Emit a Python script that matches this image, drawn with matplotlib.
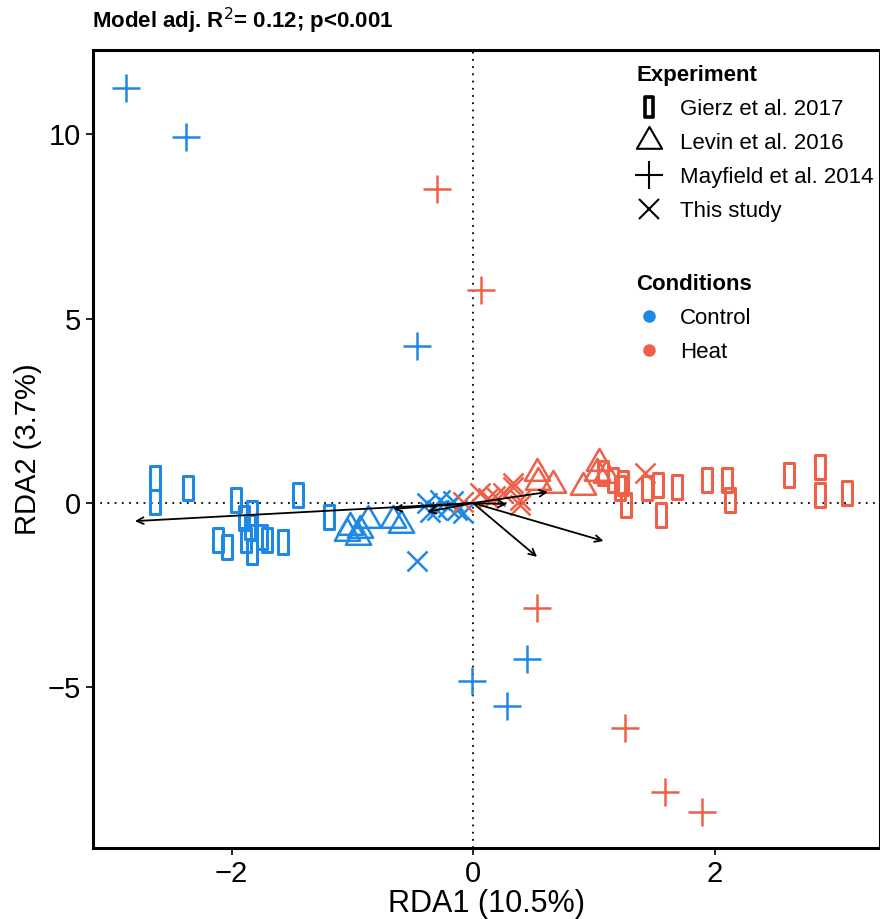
import numpy as np
import matplotlib.pyplot as plt
from matplotlib.path import Path
from matplotlib.lines import Line2D

blue = '#1E88E5'
red = '#F05F47'

# Gierz et al. 2017 (rectangles)
gierz_ctrl_x = [-2.63, -2.63, -2.36, -1.96, -1.90, -1.83, -1.85, -1.88, -1.83, -2.11,
                -2.04, -1.75, -1.71, -1.57, -1.45, -1.19]
gierz_ctrl_y = [0.68, 0.03, 0.41, 0.08, -0.41, -0.27, -0.65, -1.00, -1.33, -1.00,
                -1.19, -0.92, -1.00, -1.06, 0.22, -0.38]
gierz_heat_x = [1.08, 1.16, 1.24, 1.22, 1.27, 1.44, 1.53, 1.56, 1.69, 1.94, 2.10, 2.13,
                2.62, 2.87, 2.87, 3.10]
gierz_heat_y = [0.81, 0.62, 0.54, 0.41, -0.05, 0.41, 0.49, -0.33, 0.43, 0.62, 0.62, 0.08,
                0.76, 0.98, 0.22, 0.27]

# Levin et al. 2016 (triangles)
levin_ctrl_x = [-1.04, -1.02, -0.95, -0.94, -0.87, -0.66, -0.60]
levin_ctrl_y = [-0.81, -0.65, -0.92, -0.73, -0.46, -0.46, -0.60]
levin_heat_x = [0.53, 0.54, 0.66, 0.91, 1.04, 1.03, 1.10]
levin_heat_y = [0.81, 0.57, 0.49, 0.43, 1.08, 0.81, 0.75]

# Mayfield et al. 2014 (plus)
may_ctrl_x = [-2.87, -2.38, -0.46, -0.01, 0.45, 0.28]
may_ctrl_y = [11.25, 9.92, 4.25, -4.82, -4.23, -5.50]
may_heat_x = [-0.30, 0.07, 0.53, 1.26, 1.59, 1.90]
may_heat_y = [8.51, 5.77, -2.85, -6.10, -7.83, -8.37]

# This study (x)
this_ctrl_x = [-0.46, -0.38, -0.27, -0.30, -0.21, -0.13, -0.36, -0.08, -0.17]
this_ctrl_y = [-1.57, 0.00, 0.08, -0.19, -0.10, -0.19, -0.24, -0.27, 0.05]
this_heat_x = [-0.08, 0.06, 0.12, 0.25, 0.33, 0.39, 0.33, 0.39, 1.42, 0.18]
this_heat_y = [0.03, 0.27, 0.14, 0.27, 0.54, -0.05, 0.43, 0.08, 0.81, 0.20]

# biplot arrows (end points)
arrow_x = [-2.80, 0.62, 0.53, 1.08, -0.66, -0.38, 0.28]
arrow_y = [-0.49, 0.30, -1.46, -1.03, -0.16, -0.24, -0.03]

# marker shapes
rect = Path([(-0.22, -0.5), (0.22, -0.5), (0.22, 0.5), (-0.22, 0.5), (-0.22, -0.5)],
            [Path.MOVETO, Path.LINETO, Path.LINETO, Path.LINETO, Path.CLOSEPOLY])
tri = Path([(0, 1), (-0.866, -0.5), (0.866, -0.5), (0, 1)],
           [Path.MOVETO, Path.LINETO, Path.LINETO, Path.CLOSEPOLY])

styles = {
    'rect': dict(marker=rect, ms=17, mew=2.2, mfc='none'),
    'tri': dict(marker=tri, ms=21, mew=1.8, mfc='none'),
    'plus': dict(marker='+', ms=20, mew=1.8),
    'x': dict(marker='x', ms=14, mew=1.8),
}
leg_styles = {
    'rect': dict(marker=rect, ms=14, mew=2.6, mfc='none'),
    'tri': dict(marker=tri, ms=21, mew=1.5, mfc='none'),
    'plus': dict(marker='+', ms=20, mew=1.5),
    'x': dict(marker='x', ms=14, mew=1.5),
}

fig = plt.figure(figsize=(8.8, 9.19), dpi=100)
ax = fig.add_axes([0.1057, 0.0773, 0.8943, 0.8683])

ax.axvline(0, color='black', ls=(0, (1, 3)), lw=1.3, zorder=1)
ax.axhline(0, color='black', ls=(0, (1, 3)), lw=1.3, zorder=1)

for xs, ys, col, st in [
    (gierz_ctrl_x, gierz_ctrl_y, blue, 'rect'), (gierz_heat_x, gierz_heat_y, red, 'rect'),
    (levin_ctrl_x, levin_ctrl_y, blue, 'tri'), (levin_heat_x, levin_heat_y, red, 'tri'),
    (may_ctrl_x, may_ctrl_y, blue, 'plus'), (may_heat_x, may_heat_y, red, 'plus'),
    (this_ctrl_x, this_ctrl_y, blue, 'x'), (this_heat_x, this_heat_y, red, 'x'),
]:
    ax.plot(xs, ys, ls='none', color=col, mec=col, zorder=2, **styles[st])

for ex, ey in zip(arrow_x, arrow_y):
    ax.annotate('', xy=(ex, ey), xytext=(0, 0),
                arrowprops=dict(arrowstyle='->', color='black', lw=1.3,
                                shrinkA=0, shrinkB=0, mutation_scale=12), zorder=3)

ax.set_xlim(-3.147, 3.37)
ax.set_ylim(-9.35, 12.28)
ax.set_xticks([-2, 0, 2])
ax.set_yticks([-5, 0, 5, 10])
ax.set_xticklabels(['\u22122', '0', '2'])
ax.set_yticklabels(['\u22125', '0', '5', '10'])
ax.tick_params(labelsize=21, length=5, width=1.2, color='black')
for lab in ax.get_xticklabels() + ax.get_yticklabels():
    lab.set_fontfamily('Liberation Sans')
for s in ax.spines.values():
    s.set_linewidth(2.2)

ax.set_xlabel('RDA1 (10.5%)', fontsize=22, family='Liberation Sans', labelpad=1)
ax.set_ylabel('RDA2 (3.7%)', fontsize=21, family='Liberation Sans', labelpad=4)

fig.text(0.105, 0.977, 'Model adj. R$^2$= 0.12; p<0.001', fontsize=16, fontweight='bold',
         family='Liberation Sans', va='center')

# legends
exp_handles = [Line2D([], [], ls='none', color='black', **leg_styles[k])
               for k in ['rect', 'tri', 'plus', 'x']]
exp_labels = ['Gierz et al. 2017', 'Levin et al. 2016', 'Mayfield et al. 2014', 'This study']
leg_kw = dict(loc='upper left', frameon=False, handlelength=1.2, handletextpad=0.78,
              labelspacing=0.58, borderaxespad=0, borderpad=0,
              prop=dict(family='Liberation Sans', size=16),
              title_fontproperties=dict(family='Liberation Sans', size=16, weight='bold'))
leg1 = ax.legend(exp_handles, exp_labels, title='Experiment',
                 bbox_to_anchor=(0.690, 0.981), **leg_kw)
leg1._legend_box.align = 'left'
ax.add_artist(leg1)

cond_handles = [Line2D([], [], ls='none', marker='o', ms=8, color=blue),
                Line2D([], [], ls='none', marker='o', ms=8, color=red)]
leg2 = ax.legend(cond_handles, ['Control', 'Heat'], title='Conditions',
                 bbox_to_anchor=(0.690, 0.719), **leg_kw)
leg2._legend_box.align = 'left'

fig.savefig('out.png', dpi=100)
